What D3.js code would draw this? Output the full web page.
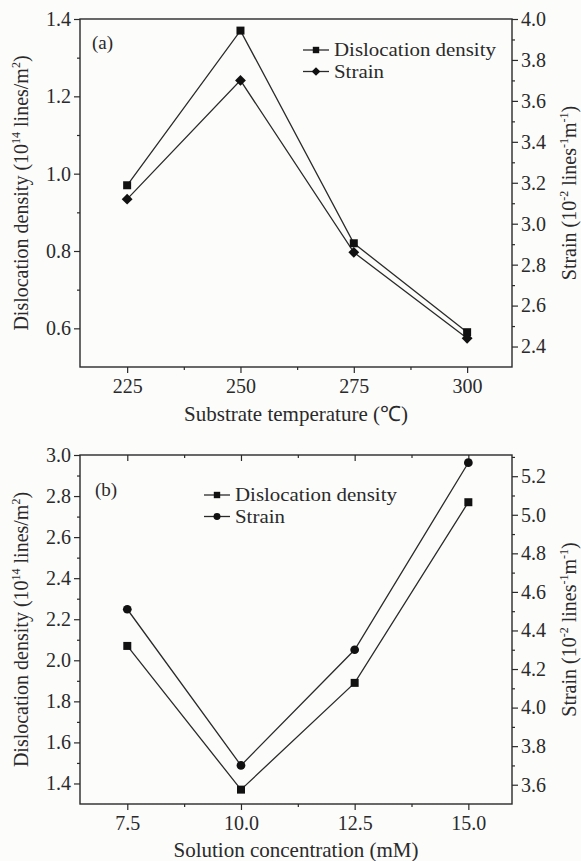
<!DOCTYPE html>
<html>
<head>
<meta charset="utf-8">
<script src="https://cdn.jsdelivr.net/npm/d3@7"></script>
<style>
  body { margin: 0; background: #fcfcfb; }
  svg text { font-family: "Liberation Serif", "Times New Roman", serif; fill: #2a2a2a; }
</style>
</head>
<body>
<div id="chart"></div>
<script>
// panel (a) data
const tempX = [225, 250, 275, 300];
const tempDensity = [0.97, 1.37, 0.82, 0.59];
const tempStrain = [3.12, 3.70, 2.86, 2.44];

// panel (b) data
const concX = [7.5, 10.0, 12.5, 15.0];
const concDensity = [2.07, 1.37, 1.89, 2.77];
const concStrain = [4.51, 3.70, 4.30, 5.27];

const tempTicks = [225, 250, 275, 300];
const concTicks = [7.5, 10.0, 12.5, 15.0];

const W = 581, H = 861;
const ink = "#2a2a2a";
const serif = "Liberation Serif, Times New Roman, serif";

const svg = d3.select("#chart").append("svg")
  .attr("width", W)
  .attr("height", H);

function drawPanel(cfg) {
  const g = svg.append("g");
  const { left, right, top, bottom } = cfg.box;

  const x = d3.scaleLinear().domain(cfg.xDomain).range([left, right]);
  const yL = d3.scaleLinear().domain(cfg.yLDomain).range([bottom, top]);
  const yR = d3.scaleLinear().domain(cfg.yRDomain).range([bottom, top]);

  // frame
  g.append("rect")
    .attr("x", left).attr("y", top)
    .attr("width", right - left).attr("height", bottom - top)
    .attr("fill", "none").attr("stroke", ink).attr("stroke-width", 1.4);

  // left axis
  g.append("g").attr("transform", `translate(${left},0)`)
    .call(d3.axisLeft(yL).tickValues(cfg.yLTicks).tickFormat(d3.format(".1f")).tickSize(6).tickPadding(3));
  g.append("g").attr("transform", `translate(${left},0)`)
    .call(d3.axisLeft(yL).tickValues(cfg.yLMinor).tickFormat("").tickSize(3));

  // right axis
  g.append("g").attr("transform", `translate(${right},0)`)
    .call(d3.axisRight(yR).tickValues(cfg.yRTicks).tickFormat(d3.format(".1f")).tickSize(6).tickPadding(3));
  g.append("g").attr("transform", `translate(${right},0)`)
    .call(d3.axisRight(yR).tickValues(cfg.yRMinor).tickFormat("").tickSize(3));

  // bottom axis
  g.append("g").attr("transform", `translate(0,${bottom})`)
    .call(d3.axisBottom(x).tickValues(cfg.xTicks).tickFormat(d3.format(cfg.xFormat)).tickSize(6).tickPadding(6));
  g.append("g").attr("transform", `translate(0,${bottom})`)
    .call(d3.axisBottom(x).tickValues(cfg.xMinor).tickFormat("").tickSize(3));

  if (cfg.topTicks) {
    g.append("g").attr("transform", `translate(0,${top})`)
      .call(d3.axisBottom(x).tickValues(cfg.xTicks).tickFormat("").tickSize(6));
    g.append("g").attr("transform", `translate(0,${top})`)
      .call(d3.axisBottom(x).tickValues(cfg.xMinor).tickFormat("").tickSize(3));
  }

  g.selectAll(".domain").remove();
  g.selectAll("g").attr("font-family", serif).attr("font-size", 20);
  g.selectAll(".tick line").attr("stroke", ink).attr("stroke-width", 1.2);
  g.selectAll(".tick text").attr("fill", ink);

  // series
  const line = (xs, ys, yS) => d3.line().x((d, i) => x(xs[i])).y(d => yS(d))(ys);

  g.append("path").attr("d", line(cfg.xs, cfg.density, yL))
    .attr("fill", "none").attr("stroke", ink).attr("stroke-width", 1.3);
  g.append("path").attr("d", line(cfg.xs, cfg.strain, yR))
    .attr("fill", "none").attr("stroke", ink).attr("stroke-width", 1.3);

  const sq = d3.symbol().type(d3.symbolSquare).size(64);
  const other = cfg.strainSymbol === "diamond"
    ? d3.symbol().type(d3.symbolDiamond2).size(75)
    : d3.symbol().type(d3.symbolCircle).size(60);

  g.selectAll(".sq").data(cfg.density).enter().append("path")
    .attr("d", sq)
    .attr("transform", (d, i) => `translate(${x(cfg.xs[i])},${yL(d)})`)
    .attr("fill", "#111");
  g.selectAll(".st").data(cfg.strain).enter().append("path")
    .attr("d", other)
    .attr("transform", (d, i) => `translate(${x(cfg.xs[i])},${yR(d)})`)
    .attr("fill", "#111");

  // legend
  const lg = cfg.legend;
  [["Dislocation density", sq], ["Strain", other]].forEach((item, i) => {
    const cy = lg.y + i * lg.dy;
    g.append("line").attr("x1", lg.x).attr("x2", lg.x + 26)
      .attr("y1", cy).attr("y2", cy).attr("stroke", ink).attr("stroke-width", 1.3);
    g.append("path").attr("d", item[1]())
      .attr("transform", `translate(${lg.x + 13},${cy}) scale(0.8)`)
      .attr("fill", "#111");
    g.append("text")
      .attr("transform", `translate(${lg.x + 31},${cy + 6}) scale(1.1,1)`)
      .attr("font-size", 19).text(item[0]);
  });

  // panel tag
  g.append("text").attr("x", cfg.tag.x).attr("y", cfg.tag.y)
    .attr("font-size", 19).text(cfg.tag.text);

  // x title
  g.append("text").attr("x", (left + right) / 2).attr("y", cfg.xTitleY)
    .attr("text-anchor", "middle").attr("font-size", 21)
    .text(cfg.xTitle);

  // left y title
  const cy = (top + bottom) / 2;
  const tl = g.append("text")
    .attr("transform", `translate(28,${cy}) rotate(-90)`)
    .attr("text-anchor", "middle").attr("font-size", 20);
  tl.append("tspan").text("Dislocation density (10");
  tl.append("tspan").attr("font-size", 12).attr("dy", -8).text("14");
  tl.append("tspan").attr("dy", 8).text(" lines/m");
  tl.append("tspan").attr("font-size", 12).attr("dy", -8).text("2");
  tl.append("tspan").attr("dy", 8).text(")");

  // right y title
  const tr = g.append("text")
    .attr("transform", `translate(576,${cy}) rotate(-90)`)
    .attr("text-anchor", "middle").attr("font-size", 20);
  tr.append("tspan").text("Strain (10");
  tr.append("tspan").attr("font-size", 12).attr("dy", -8).text("-2");
  tr.append("tspan").attr("dy", 8).text(" lines");
  tr.append("tspan").attr("font-size", 12).attr("dy", -8).text("-1");
  tr.append("tspan").attr("dy", 8).text("m");
  tr.append("tspan").attr("font-size", 12).attr("dy", -8).text("-1");
  tr.append("tspan").attr("dy", 8).text(")");
}

drawPanel({
  box: { left: 80, right: 512, top: 19, bottom: 367 },
  xDomain: [214.6, 309.9],
  yLDomain: [0.5, 1.4],
  yRDomain: [2.3, 4.0],
  xTicks: tempTicks,
  xMinor: [237.5, 262.5, 287.5],
  xFormat: "d",
  yLTicks: [0.6, 0.8, 1.0, 1.2, 1.4],
  yLMinor: [0.7, 0.9, 1.1, 1.3],
  yRTicks: [2.4, 2.6, 2.8, 3.0, 3.2, 3.4, 3.6, 3.8, 4.0],
  yRMinor: [2.5, 2.7, 2.9, 3.1, 3.3, 3.5, 3.7, 3.9],
  xs: tempX,
  density: tempDensity,
  strain: tempStrain,
  strainSymbol: "diamond",
  legend: { x: 303, y: 50, dy: 21.5 },
  tag: { x: 92, y: 49, text: "(a)" },
  xTitle: "Substrate temperature (\u2103)",
  xTitleY: 421,
  topTicks: false
});

drawPanel({
  box: { left: 80, right: 512, top: 455, bottom: 804 },
  xDomain: [6.46, 15.96],
  yLDomain: [1.3, 3.0],
  yRDomain: [3.5, 5.31],
  xTicks: concTicks,
  xMinor: [8.75, 11.25, 13.75],
  xFormat: ".1f",
  yLTicks: [1.4, 1.6, 1.8, 2.0, 2.2, 2.4, 2.6, 2.8, 3.0],
  yLMinor: [1.5, 1.7, 1.9, 2.1, 2.3, 2.5, 2.7, 2.9],
  yRTicks: [3.6, 3.8, 4.0, 4.2, 4.4, 4.6, 4.8, 5.0, 5.2],
  yRMinor: [3.7, 3.9, 4.1, 4.3, 4.5, 4.7, 4.9, 5.1, 5.3],
  xs: concX,
  density: concDensity,
  strain: concStrain,
  strainSymbol: "circle",
  legend: { x: 204, y: 495, dy: 21.5 },
  tag: { x: 95, y: 496, text: "(b)" },
  xTitle: "Solution concentration (mM)",
  xTitleY: 857,
  topTicks: true
});
</script>
</body>
</html>
